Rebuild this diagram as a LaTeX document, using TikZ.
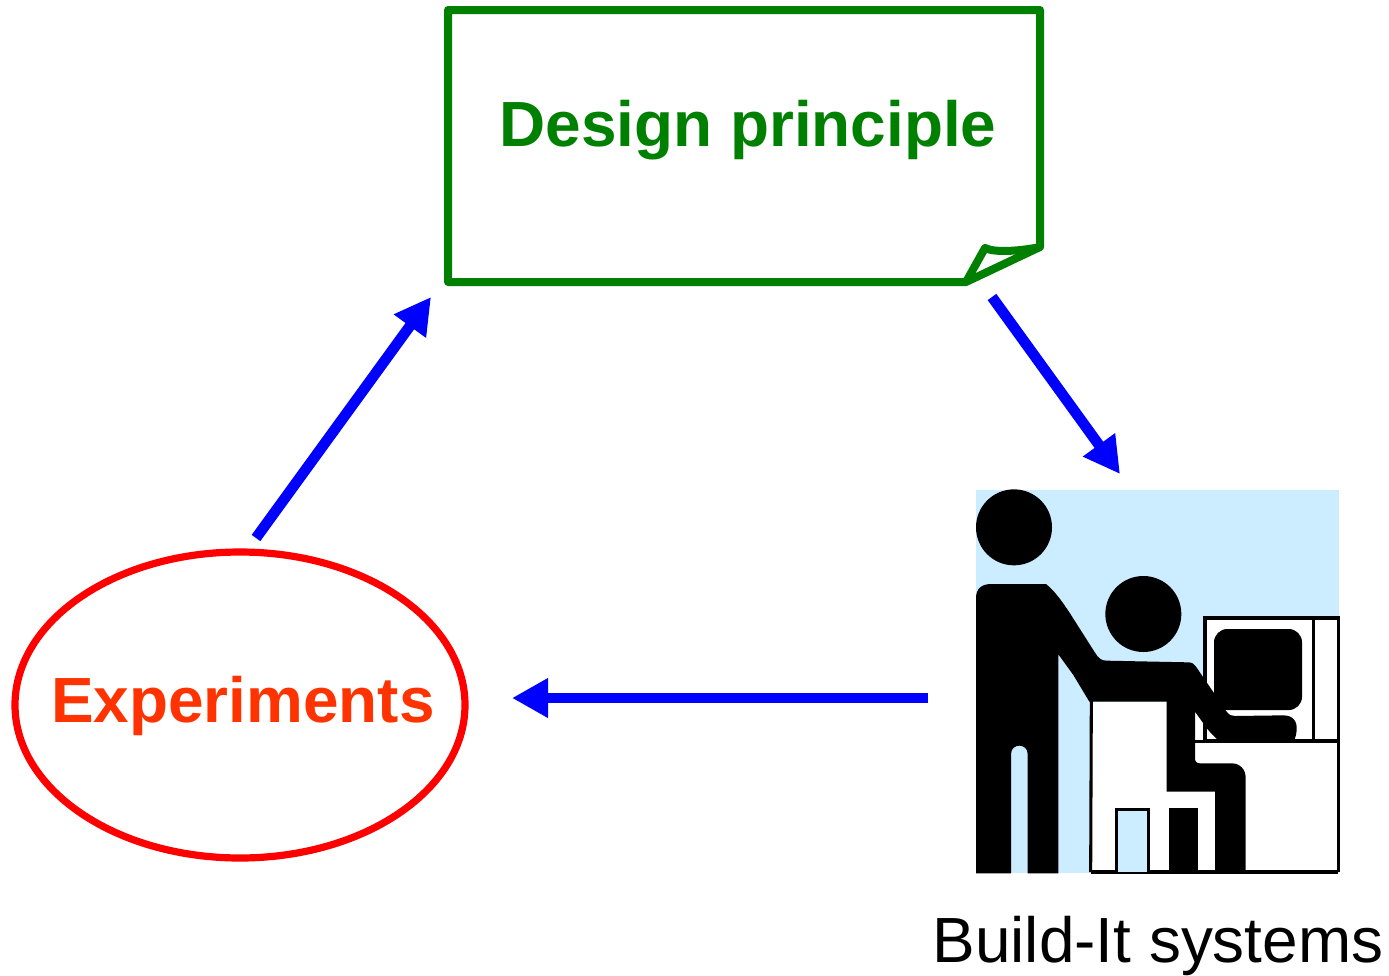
\documentclass[tikz,border=0pt]{standalone}
\usepackage{fontspec}
\setmainfont{Liberation Sans}
\usetikzlibrary{arrows.meta}
\definecolor{dgreen}{RGB}{0,128,0}
\definecolor{lblue}{RGB}{204,236,255}
\definecolor{expred}{RGB}{255,51,0}
\tikzset{
  flow/.style={draw=blue,line width=8pt,-{Triangle[length=27pt,width=28pt]}},
  label/.style={anchor=base,inner sep=0pt,font=\fontsize{47.9pt}{50pt}\selectfont},
  ink/.style={draw=black,line width=2.3pt,fill=white},
  solid black/.style={fill=black,draw=none},
}
\begin{document}
\begin{tikzpicture}[x=0.75pt,y=-0.75pt]
\useasboundingbox (0,0) rectangle (1389,975);
% design principle note
\draw[dgreen,line width=6pt,line join=round] (448,10) -- (1040,10) -- (1040,247) -- (966,282) -- (448,282) -- cycle;
\draw[dgreen,line width=6pt,line join=round] (966,282) -- (985,248) .. controls (995,253) and (1020,251) .. (1040,247);
\node[label,text=dgreen,font=\fontsize{47.9pt}{50pt}\selectfont\bfseries] (design) at (748,146) {Design principle};
% experiments
\draw[red,line width=5.4pt] (240,705) ellipse [x radius=225,y radius=153];
\node[label,text=expred,font=\fontsize{47.9pt}{50pt}\selectfont\bfseries] (exper) at (243,722) {Experiments};
% icon
\begin{scope}[shift={(960,480)},x=0.25pt,y=-0.25pt]
  \fill[lblue] (48,30) rectangle (1138,1180);
  % chair
  \fill[white] (393,665) rectangle (770,1176);
  % monitor and desk
  \draw[ink] (735,414) rectangle (1135,782);
  \draw[black,line width=2.3pt] (1060,408) -- (1060,782);
  \draw[solid black,rounded corners=10pt] (762,447) rectangle (1026,690);
  \fill[white] (705,784) rectangle (1135,1176);
  \draw[black,line width=2.3pt] (705,784) -- (1135,784) -- (1135,1176);
  \draw[black,line width=2.3pt] (394,660) -- (392,1176);
  \draw[black,line width=2.3pt] (392,1176) -- (1135,1176);
  \draw[black,line width=2.3pt,fill=lblue] (469,1176) -- (469,988) -- (565,988) -- (565,1176);
  \fill[black] (627,985) rectangle (713,1180);
  % the two figures
  \fill[black] (162,142) circle [radius=114];
  \fill[black] (550,402) circle [radius=114];
  \fill[black]
    (48,355) .. controls (48,325) and (65,312) .. (95,312) -- (258,312)
    .. controls (285,335) and (300,355) .. (330,400) -- (405,518)
    .. controls (415,535) and (425,542) .. (440,542) -- (685,547)
    .. controls (697,547) and (703,553) .. (708,560) -- (800,695)
    .. controls (807,705) and (815,708) .. (825,708) -- (970,706)
    .. controls (1000,706) and (1012,725) .. (1010,750)
    .. controls (1009,762) and (1007,770) .. (1004,778) -- (772,778)
    .. controls (755,762) and (745,752) .. (735,737) -- (705,695)
    -- (705,835) .. controls (705,845) and (710,850) .. (720,850) -- (815,850)
    .. controls (840,850) and (857,868) .. (857,893) -- (857,1180)
    -- (765,1180) -- (765,935) -- (620,935) -- (620,665) -- (388,665)
    -- (340,585) -- (295,523) -- (295,1180) -- (203,1180) -- (203,822)
    .. controls (203,805) and (190,797) .. (178,797)
    .. controls (166,797) and (153,805) .. (153,822)
    -- (153,1180) -- (48,1180) -- cycle;
  \coordinate (icon) at (590,600);
\end{scope}
\node[label] (build) at (1158,962) {Build-It systems};
% cycle arrows
\coordinate (a1s) at (256,538);
\coordinate (a1e) at (431,297);
\coordinate (a2s) at (992,297);
\coordinate (a2e) at (1120,474);
\coordinate (a3s) at (928,698);
\coordinate (a3e) at (512,698);
\draw[flow] (a1s) -- (a1e);
\draw[flow] (a2s) -- (a2e);
\draw[flow] (a3s) -- (a3e);
\end{tikzpicture}
\end{document}
